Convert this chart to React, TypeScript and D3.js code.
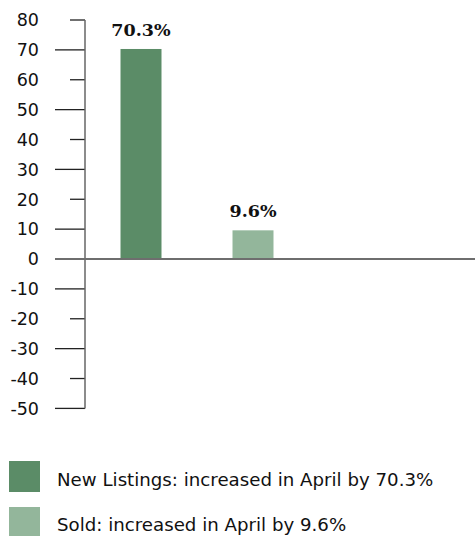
import React from "react";
import * as d3 from "d3";

const categories = ["New Listings", "Sold"];
const values = [70.3, 9.6];
const valueLabels = ["70.3%", "9.6%"];
const legendLabels = [
  "New Listings: increased in April by 70.3%",
  "Sold: increased in April by 9.6%",
];
const colors = ["#5b8c67", "#93b69b"];
const yTicks = [80, 70, 60, 50, 40, 30, 20, 10, 0, -10, -20, -30, -40, -50];
const longTicks = [70, 50, 30, 10, 0, -10, -30, -50];

export default function App() {
  const W = 475;
  const H = 536;
  const axisX = 85;
  const y = d3.scaleLinear().domain([-50, 80]).range([408.4, 20]);
  const x = d3
    .scaleBand<string>()
    .domain(categories)
    .range([axisX, axisX + 224])
    .paddingInner(0.634)
    .paddingOuter(0.317);
  const sans = "'DejaVu Sans', sans-serif";
  return (
    <svg
      width={W}
      height={H}
      style={{ position: "absolute", left: 0, top: 0, background: "#fff" }}
    >
      {yTicks.map((t) => {
        const long = longTicks.includes(t);
        return (
          <g key={t}>
            <line
              x1={long ? 55 : 70}
              x2={axisX}
              y1={y(t)}
              y2={y(t)}
              stroke="#222"
              strokeWidth={1.3}
            />
            <text
              x={39}
              y={y(t)}
              dy="0.36em"
              textAnchor="end"
              fontFamily={sans}
              fontSize={17.5}
              fill="#111"
            >
              {t}
            </text>
          </g>
        );
      })}
      <line x1={axisX} x2={axisX} y1={y(80)} y2={y(-50)} stroke="#666" strokeWidth={1.5} />
      {categories.map((c, i) => (
        <g key={c}>
          <rect
            x={x(c)}
            width={x.bandwidth()}
            y={y(values[i])}
            height={y(0) - y(values[i])}
            fill={colors[i]}
          />
          <text
            x={(x(c) as number) + x.bandwidth() / 2}
            y={y(values[i]) - 13}
            textAnchor="middle"
            fontFamily="'DejaVu Serif', serif"
            fontWeight="bold"
            fontSize={17.5}
            fill="#111"
          >
            {valueLabels[i]}
          </text>
        </g>
      ))}
      <line x1={55} x2={W} y1={y(0)} y2={y(0)} stroke="#6e6e6e" strokeWidth={2} />
      {legendLabels.map((l, i) => (
        <g key={l}>
          <rect x={9} y={461 + i * 46} width={31} height={31} fill={colors[i]} />
          <text
            x={57}
            y={485.5 + i * 45.5}
            fontFamily={sans}
            fontSize={18.2}
            fill="#111"
          >
            {l}
          </text>
        </g>
      ))}
    </svg>
  );
}
